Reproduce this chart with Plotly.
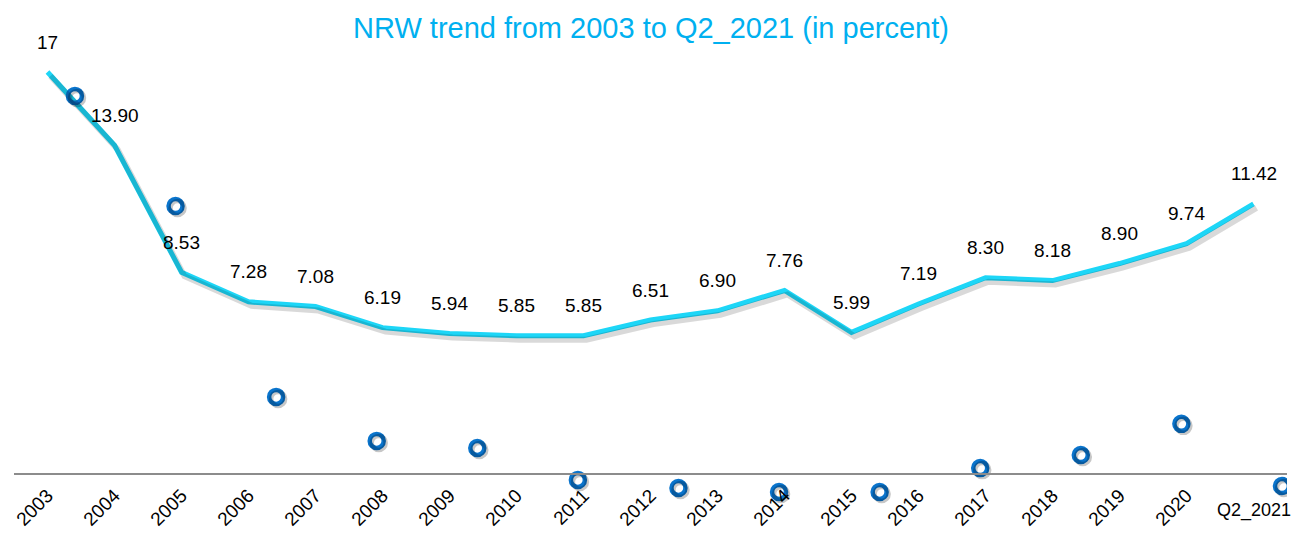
import plotly.graph_objects as go

# ---- data ----
categories = ["2003", "2004", "2005", "2006", "2007", "2008", "2009", "2010", "2011",
              "2012", "2013", "2014", "2015", "2016", "2017", "2018", "2019", "2020", "Q2_2021"]
nrw_percent = [17, 13.90, 8.53, 7.28, 7.08, 6.19, 5.94, 5.85, 5.85,
               6.51, 6.90, 7.76, 5.99, 7.19, 8.30, 8.18, 8.90, 9.74, 11.42]
# second (marker-only) series, 13 points spread over the same width
marker_series = [15.99, 11.33, 3.26, 1.40, 1.10, -0.25, -0.59, -0.76, -0.76, 0.25, 0.80, 2.12, -0.51]
marker_index = list(range(len(marker_series)))
cat_index = list(range(len(categories)))

title_text = "NRW trend from 2003 to Q2_2021 (in percent)"

FONT = "Liberation Sans, Arial, sans-serif"
LINE_COLOR = "#1DD6F7"
MARK_COLOR = "#0A74CC"

def fmt(v):
    return f"{v:g}" if float(v).is_integer() else f"{v:.2f}"

# geometry of plot area (pixels)
W, H = 1302, 534
M_L, M_R, M_T, M_B = 14, 15, 45, 30
plot_w = W - M_L - M_R
plot_h = H - M_T - M_B
BASE_FROM_BOTTOM = 30          # zero line 30 px above the plot bottom
px_per_unit = 23.647
Y_RANGE = [-BASE_FROM_BOTTOM / px_per_unit, -BASE_FROM_BOTTOM / px_per_unit + plot_h / px_per_unit]
X_RANGE = [-0.5, len(categories) - 0.5]
X2_RANGE = [-0.606, 12.05]
px_per_cat = plot_w / (X_RANGE[1] - X_RANGE[0])
px_per_m = plot_w / (X2_RANGE[1] - X2_RANGE[0])

fig = go.Figure()

# line shadow
fig.add_trace(go.Scatter(
    x=cat_index, y=nrw_percent, mode="lines", xaxis="x3", yaxis="y2",
    line=dict(color="rgba(0,0,0,0.15)", width=6), hoverinfo="skip", showlegend=False))

# main line
fig.add_trace(go.Scatter(
    x=cat_index, y=nrw_percent, mode="lines",
    line=dict(color=LINE_COLOR, width=5), showlegend=False))

# marker shadow
fig.add_trace(go.Scatter(
    x=marker_index, y=marker_series, mode="markers", xaxis="x4", yaxis="y3",
    marker=dict(symbol="circle", size=14, color="rgba(0,0,0,0)",
                line=dict(color="rgba(0,0,0,0.22)", width=4.5)),
    hoverinfo="skip", showlegend=False))

# markers
fig.add_trace(go.Scatter(
    x=marker_index, y=marker_series, mode="markers", xaxis="x2", yaxis="y",
    marker=dict(symbol="circle", size=14, color="rgba(255,255,255,0)",
                line=dict(color=MARK_COLOR, width=4.5)),
    showlegend=False))

annotations = []
for i, v in zip(cat_index, nrw_percent):
    annotations.append(dict(x=i, y=v, xref="x", yref="y", text=fmt(v), showarrow=False,
                            yshift=30, font=dict(family=FONT, size=19, color="black")))
# last category label shown horizontally
annotations.append(dict(x=cat_index[-1], y=0, xref="x", yref="y", text=categories[-1],
                        showarrow=False, yshift=-36, yanchor="middle",
                        font=dict(family=FONT, size=18, color="black")))

ticktext = categories[:-1] + [""]

fig.update_layout(
    width=W, height=H,
    margin=dict(l=M_L, r=M_R, t=M_T, b=M_B, autoexpand=False),
    paper_bgcolor="white", plot_bgcolor="white",
    title=dict(text=title_text, x=0.5, xref="container", xanchor="center",
               y=1 - 28 / H, yanchor="middle",
               font=dict(family=FONT, size=29, color="#00B0F0")),
    xaxis=dict(range=X_RANGE, anchor="free", position=BASE_FROM_BOTTOM / plot_h,
               showline=True, linecolor="#8C8C8C", linewidth=2, automargin=False,
               ticks="", showgrid=False, zeroline=False, tickangle=-45,
               tickmode="array", tickvals=cat_index, ticktext=ticktext,
               ticklabelstandoff=2,
               tickfont=dict(family=FONT, size=19, color="black")),
    yaxis=dict(range=Y_RANGE, visible=False, showgrid=False, zeroline=False),
    xaxis2=dict(overlaying="x", range=X2_RANGE, visible=False, showgrid=False, zeroline=False),
    xaxis3=dict(overlaying="x",
                range=[X_RANGE[0] - 3 / px_per_cat, X_RANGE[1] - 3 / px_per_cat],
                visible=False, showgrid=False, zeroline=False),
    xaxis4=dict(overlaying="x", range=[X2_RANGE[0] - 2 / px_per_m, X2_RANGE[1] - 2 / px_per_m],
                visible=False, showgrid=False, zeroline=False),
    yaxis2=dict(overlaying="y", range=[Y_RANGE[0] + 4 / px_per_unit, Y_RANGE[1] + 4 / px_per_unit],
                visible=False, showgrid=False, zeroline=False),
    yaxis3=dict(overlaying="y", range=[Y_RANGE[0] + 2 / px_per_unit, Y_RANGE[1] + 2 / px_per_unit],
                visible=False, showgrid=False, zeroline=False),
    annotations=annotations,
)

fig.write_html("out.html", config={"displayModeBar": False},
               post_script="document.body.style.margin='0';document.body.style.overflow='hidden';")
